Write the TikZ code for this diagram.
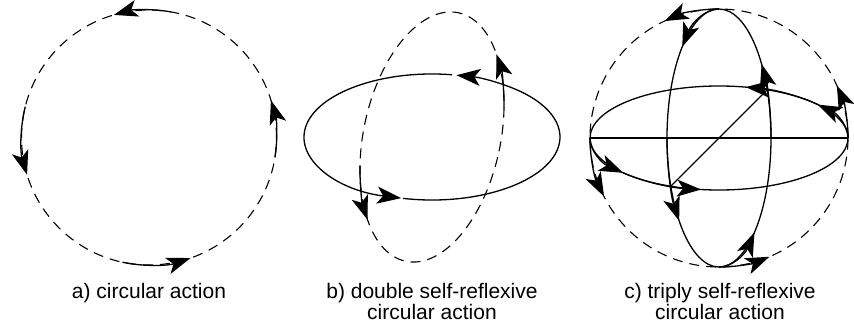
\documentclass[tikz,border=0pt]{standalone}
\usepackage{fontspec}
\setmainfont{Liberation Sans}
\usetikzlibrary{arrows.meta}

\begin{document}
\begin{tikzpicture}[x=1pt,y=1pt,line width=1.3pt,
    flow/.style={-{Stealth[length=24pt,width=17pt,inset=6pt]}},
    track/.style={dash pattern=on 10pt off 7pt,line width=1.1pt},
    caption/.style={anchor=north,inner sep=0pt,align=center,font=\fontsize{21}{21.5}\selectfont}]
  \useasboundingbox (0,0) rectangle (854,333);
  % a) circular action
  \coordinate (ca) at (149,195.5);
  \draw[track] (ca) circle (127.5);
  \foreach \s/\e in {80/106,166/197,258/289,351/377}
    \draw[flow] (ca) ++(\s:127.5) arc[start angle=\s,end angle=\e,radius=127.5];
  \node[caption] (capa) at (149,50.5) {a) circular action};
  % b) double self-reflexive
  \coordinate (cb) at (432,196);
  \draw[flow] (cb) ++({128*cos(81)},{63*sin(81)}) arc[start angle=81,end angle=256,x radius=128,y radius=63];
  \draw[flow] (cb) ++({128*cos(257)},{63*sin(257)}) arc[start angle=257,end angle=439,x radius=128,y radius=63];
  \begin{scope}[shift={(cb)},rotate=-12]
    \draw[track] (0,0) ellipse[x radius=68.5,y radius=127];
    \foreach \s/\e in {20/48,200/228}
      \draw[flow] ({68.5*cos(\s)},{127*sin(\s)}) arc[start angle=\s,end angle=\e,x radius=68.5,y radius=127];
  \end{scope}
  \node[caption] (capb) at (432,50.5) {b) double self-reflexive\\circular action};
  % c) triply self-reflexive
  \coordinate (cc) at (719,195);
  \draw[track] (cc) circle (129);
  \foreach \s/\e in {0/24,90/115,180/207,270/293}
    \draw[flow] (cc) ++(\s:129) arc[start angle=\s,end angle=\e,radius=129];
  \draw (cc) ellipse[x radius=129,y radius=52];
  \draw (cc) ellipse[x radius=52,y radius=129];
  \foreach \s/\e in {0/40,40/78,180/222,222/262}
    \draw[flow] (cc) ++({129*cos(\s)},{52*sin(\s)}) arc[start angle=\s,end angle=\e,x radius=129,y radius=52];
  \foreach \s/\e in {0/35,90/135,180/220,270/313}
    \draw[flow] (cc) ++({52*cos(\s)},{129*sin(\s)}) arc[start angle=\s,end angle=\e,x radius=52,y radius=129];
  \draw (cc) ++(-129,0) -- ++(258,0);
  \draw (cc) ++(-48.2,-48.2) -- ++(96.4,96.4);
  \node[caption] (capc) at (720,50.5) {c) triply self-reflexive\\circular action};
\end{tikzpicture}
\end{document}
